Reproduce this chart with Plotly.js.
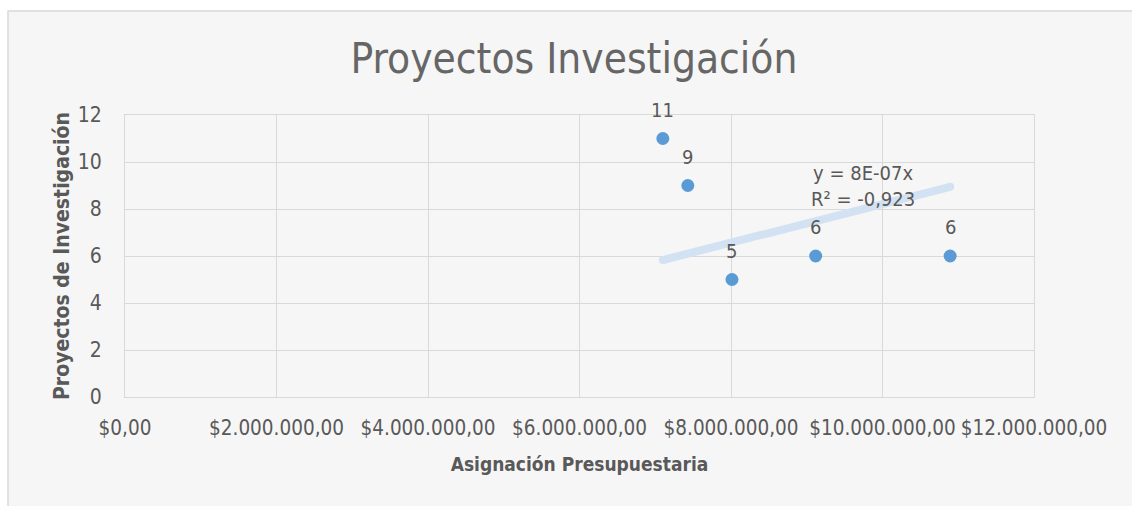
<!DOCTYPE html>
<html>
<head>
<meta charset="utf-8">
<script src="https://cdn.plot.ly/plotly-3.0.1.min.js"></script>
<style>html,body{margin:0;padding:0;background:#fff;}#chart{width:1132px;height:506px;}</style>
</head>
<body>
<div id="chart"></div>
<script>
// Data
const asignacion = [7100000, 7430000, 8013000, 9118000, 10893000];
const proyectos = [11, 9, 5, 6, 6];
const xTickVals = [0, 2000000, 4000000, 6000000, 8000000, 10000000, 12000000];
const xTickText = ["$0,00", "$2.000.000,00", "$4.000.000,00", "$6.000.000,00", "$8.000.000,00", "$10.000.000,00", "$12.000.000,00"];
const trendLabel = "y = 8E-07x<br>R² = -0,923";

// Linear trendline through the origin (least squares)
let sxy = 0, sxx = 0;
for (let i = 0; i < asignacion.length; i++) { sxy += asignacion[i] * proyectos[i]; sxx += asignacion[i] * asignacion[i]; }
const slope = sxy / sxx;
const xMin = Math.min(...asignacion), xMax = Math.max(...asignacion);
const trendX = [xMin, xMax];
const trendY = trendX.map(v => v * slope);

const FONT = '"DejaVu Sans Condensed", "Liberation Sans", sans-serif';
const GREY = '#595959';

const traces = [
  {
    x: trendX, y: trendY, mode: 'lines+markers', type: 'scatter',
    line: {color: '#d2e2f3', width: 8},
    marker: {color: '#d2e2f3', size: 8},
    hoverinfo: 'skip', showlegend: false
  },
  {
    x: asignacion, y: proyectos, mode: 'markers', type: 'scatter',
    marker: {color: '#5b9bd5', size: 13},
    showlegend: false
  }
];

const annotations = asignacion.map((v, i) => ({
  x: v, y: proyectos[i], xref: 'x', yref: 'y', text: String(proyectos[i]),
  showarrow: false, yshift: 29, font: {family: FONT, size: 20, color: GREY}
}));
annotations.push({
  x: 9740000, y: 9.0, xref: 'x', yref: 'y', text: trendLabel, showarrow: false,
  font: {family: FONT, size: 20, color: GREY}
});

const layout = {
  width: 1132, height: 506,
  margin: {l: 125, r: 98, t: 115, b: 109},
  paper_bgcolor: '#ffffff',
  plot_bgcolor: 'rgba(0,0,0,0)',
  font: {family: FONT, color: GREY},
  title: {text: 'Proyectos Investigación', font: {family: FONT, size: 42, color: '#666666'}, x: 0.507, xanchor: 'center', y: 0.885, yanchor: 'middle'},
  xaxis: {
    range: [0, 12000000], tickvals: xTickVals, ticktext: xTickText, tickangle: 0,
    tickfont: {family: FONT, size: 20.5, color: GREY},
    showgrid: true, gridcolor: '#d9d9d9', gridwidth: 1,
    zeroline: false, showline: true, linecolor: '#d9d9d9', mirror: true,
    ticks: 'outside', ticklen: 12, tickcolor: 'rgba(0,0,0,0)',
    title: {text: '<b>Asignación Presupuestaria</b>', font: {family: FONT, size: 19, color: GREY}, standoff: 19},
    automargin: false,
    fixedrange: true
  },
  yaxis: {
    range: [0, 12], dtick: 2, tick0: 0,
    tickfont: {family: FONT, size: 21, color: GREY},
    showgrid: true, gridcolor: '#d9d9d9', gridwidth: 1,
    zeroline: false, showline: true, linecolor: '#d9d9d9', mirror: true,
    ticks: 'outside', ticklen: 18, tickcolor: 'rgba(0,0,0,0)',
    title: {text: '<b>Proyectos de Investigación</b>', font: {family: FONT, size: 21, color: GREY}, standoff: 2},
    automargin: false,
    fixedrange: true
  },
  annotations: annotations,
  shapes: [{
    type: 'rect', xref: 'paper', yref: 'paper', layer: 'below',
    x0: (8 - 125) / 909, x1: (1145 - 125) / 909,
    y0: (397 - 520) / 282, y1: (397 - 11) / 282,
    fillcolor: '#f6f6f6', line: {color: '#d9d9d9', width: 1.5}
  }]
};

Plotly.newPlot('chart', traces, layout, {displayModeBar: false, staticPlot: true});
</script>
</body>
</html>
